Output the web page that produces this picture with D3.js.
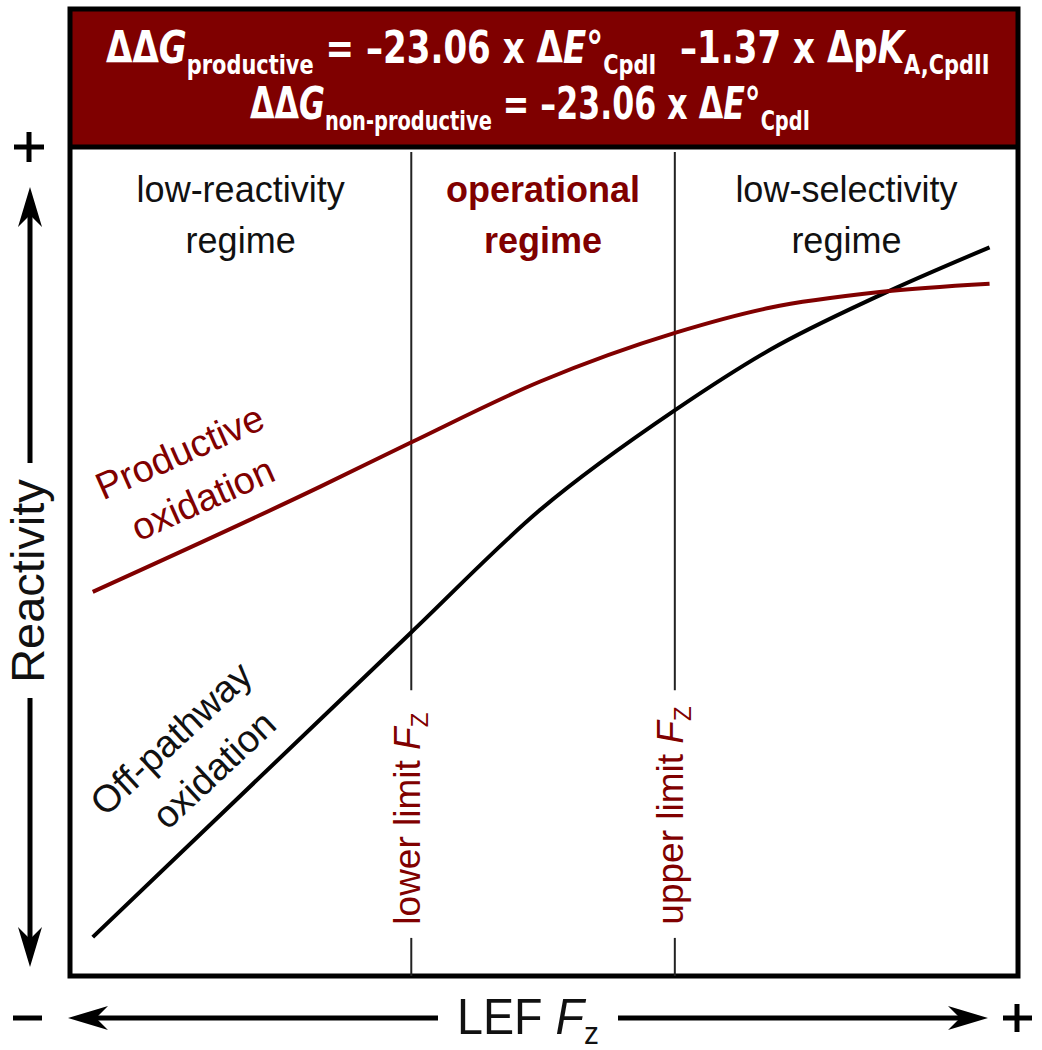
<!DOCTYPE html>
<html lang="en">
<head>
    <meta charset="UTF-8">
    <title>LEF Fz operational regime</title>
    <style>
        body { margin: 0; background: #fff; }
        text { font-family: "Liberation Sans", Arial, sans-serif; }
        .eq { font-family: "Liberation Sans Narrow", "DejaVu Sans Condensed", "Liberation Sans", sans-serif; font-weight: bold; fill: #fff; white-space: pre; }
    </style>
    <script src="https://d3js.org/d3.v7.min.js"></script>
</head>
<body>
    <div id="chart"></div>
    <script>
        // curve data (LEF Fz on 0-100, reactivity on 0-100)
        const prodX = [2.4, 26.4, 35.9, 49.6, 63.9, 73.8, 85.4, 97.0];
        const productive = [46.4, 59.1, 64.4, 71.8, 77.7, 80.7, 82.6, 83.6];
        const offX = [2.4, 35.9, 49.6, 63.9, 73.8, 85.4, 97.0];
        const offPathway = [4.7, 41.4, 56.3, 68.4, 75.6, 82.2, 88.0];

        const limits = [36.0, 63.8];
        const limitLabels = ["lower limit ", "upper limit "];
        const regimes = [["low-reactivity", "regime"], ["operational", "regime"], ["low-selectivity", "regime"]];

        // equation pieces: [text, style]
        const eq1 = [["ΔΔ", ""], ["G", "i"], ["productive", "sub"], [" = –23.06 x Δ", ""], ["E", "i"], ["°", ""], ["CpdI", "sub"], ["  –1.37 x Δp", ""], ["K", "i"], ["A,CpdII", "sub"]];
        const eq2 = [["ΔΔ", ""], ["G", "i"], ["non-productive", "sub"], [" = –23.06 x Δ", ""], ["E", "i"], ["°", ""], ["CpdI", "sub"]];

        const width = 1042, height = 1050;
        const red = "#800000";

        const svg = d3.select("#chart").append("svg")
            .attr("width", width)
            .attr("height", height);

        const x = d3.scaleLinear().domain([0, 100]).range([70, 1018]);
        const y = d3.scaleLinear().domain([0, 100]).range([976, 148]);

        // header
        svg.append("rect")
            .attr("x", 70).attr("y", 9)
            .attr("width", 948).attr("height", 138)
            .attr("fill", "#7f0000");
        svg.append("line")
            .attr("x1", 68).attr("x2", 1020)
            .attr("y1", 147).attr("y2", 147)
            .attr("stroke", "#000").attr("stroke-width", 5);

        // squeeze a text horizontally to a target width, starting at x0
        const fit = (t, x0, y0, target) => {
            const w = t.node().getBBox().width;
            t.attr("transform", `translate(${x0},${y0}) scale(${target / w},1)`);
        };

        const equation = (parts, x0, y0, target) => {
            const t = svg.append("text").attr("class", "eq").attr("font-size", 44);
            let shifted = false;
            parts.forEach(([s, k]) => {
                const ts = t.append("tspan").text(s);
                if (k === "i") ts.attr("font-style", "italic");
                if (k === "sub") {
                    ts.attr("font-size", 27).attr("dy", 11);
                    shifted = true;
                } else if (shifted) {
                    ts.attr("dy", -11);
                    shifted = false;
                }
            });
            fit(t, x0, y0, target);
        };
        equation(eq1, 106, 63, 884);
        equation(eq2, 250, 119, 560);

        // frame
        svg.append("rect")
            .attr("x", 70).attr("y", 9)
            .attr("width", 948).attr("height", 967)
            .attr("fill", "none")
            .attr("stroke", "#000").attr("stroke-width", 5);

        // limit lines, broken round their labels
        limits.forEach((v, i) => {
            svg.append("line")
                .attr("x1", x(v)).attr("x2", x(v))
                .attr("y1", 152).attr("y2", y(34.5))
                .attr("stroke", "#222").attr("stroke-width", 2);
            svg.append("line")
                .attr("x1", x(v)).attr("x2", x(v))
                .attr("y1", y(4.6)).attr("y2", y(0))
                .attr("stroke", "#222").attr("stroke-width", 2);
            const g = svg.append("g")
                .attr("transform", `translate(${x(v) + (i === 0 ? 9 : 8)},${y(6.2)}) rotate(-90)`);
            const t = g.append("text")
                .attr("fill", red)
                .attr("font-size", 37);
            t.append("tspan").text(limitLabels[i]);
            t.append("tspan").attr("font-style", "italic").text("F");
            t.append("tspan").attr("font-size", 24).attr("dy", 8).text("Z");
        });

        // regime labels
        const bounds = [0, ...limits, 100];
        regimes.forEach((lines, i) => {
            const cx = x((bounds[i] + bounds[i + 1]) / 2);
            lines.forEach((s, j) => {
                svg.append("text")
                    .attr("x", cx)
                    .attr("y", 202 + j * 51)
                    .attr("text-anchor", "middle")
                    .attr("font-size", 36)
                    .attr("font-weight", i === 1 ? "bold" : "normal")
                    .attr("fill", i === 1 ? red : "#111")
                    .text(s);
            });
        });

        // curves
        const line = d3.line()
            .x(d => x(d[0]))
            .y(d => y(d[1]))
            .curve(d3.curveMonotoneX);

        svg.append("path")
            .datum(offX.map((v, i) => [v, offPathway[i]]))
            .attr("d", line)
            .attr("fill", "none")
            .attr("stroke", "#000")
            .attr("stroke-width", 4);

        svg.append("path")
            .datum(prodX.map((v, i) => [v, productive[i]]))
            .attr("d", line)
            .attr("fill", "none")
            .attr("stroke", red)
            .attr("stroke-width", 4);

        // curve labels
        const label = (cx, cy, angle, lines, color, dx2) => {
            const g = svg.append("g")
                .attr("transform", `translate(${cx},${cy}) rotate(${angle})`);
            lines.forEach((s, j) => {
                g.append("text")
                    .attr("x", j * dx2)
                    .attr("y", j * 52)
                    .attr("text-anchor", "middle")
                    .attr("font-size", 38)
                    .attr("fill", color)
                    .text(s);
            });
        };
        label(185, 464, -24, ["Productive", "oxidation"], red, 2);
        label(180, 748, -43, ["Off-pathway", "oxidation"], "#111", 10);

        // axis arrows
        const head = (tx, ty, dir) => {
            // dir: unit vector of arrow direction
            const [ux, uy] = dir, px = -uy, py = ux;
            const L = 40, hw = 12, notch = 28;
            const pts = [
                [tx, ty],
                [tx - ux * L + px * hw, ty - uy * L + py * hw],
                [tx - ux * notch, ty - uy * notch],
                [tx - ux * L - px * hw, ty - uy * L - py * hw]
            ];
            svg.append("path")
                .attr("d", "M" + pts.map(p => p.join(",")).join("L") + "Z")
                .attr("fill", "#000");
        };
        const seg = (x1, y1, x2, y2) => svg.append("line")
            .attr("x1", x1).attr("y1", y1).attr("x2", x2).attr("y2", y2)
            .attr("stroke", "#000").attr("stroke-width", 5);

        // vertical
        seg(30, 210, 30, 463);
        seg(30, 698, 30, 945);
        head(30, 187, [0, -1]);
        head(30, 967, [0, 1]);
        // horizontal
        seg(95, 1018, 438, 1018);
        seg(618, 1018, 965, 1018);
        head(68, 1018, [-1, 0]);
        head(988, 1018, [1, 0]);

        // + and - marks
        seg(14, 147, 44, 147);
        seg(29, 132, 29, 162);
        seg(1003, 1018, 1032, 1018);
        seg(1017, 1004, 1017, 1032);
        seg(13, 1018, 42, 1018);

        // axis titles
        svg.append("text")
            .attr("text-anchor", "middle")
            .attr("font-size", 47)
            .attr("fill", "#111")
            .attr("transform", "translate(44,581) rotate(-90)")
            .text("Reactivity");

        const xt = svg.append("text")
            .attr("font-size", 50)
            .attr("fill", "#111");
        xt.append("tspan").text("LEF ");
        xt.append("tspan").attr("font-style", "italic").text("F");
        xt.append("tspan").attr("font-size", 32).attr("dy", 10).text("z");
        fit(xt, 457, 1034, 142);
    </script>
</body>
</html>
